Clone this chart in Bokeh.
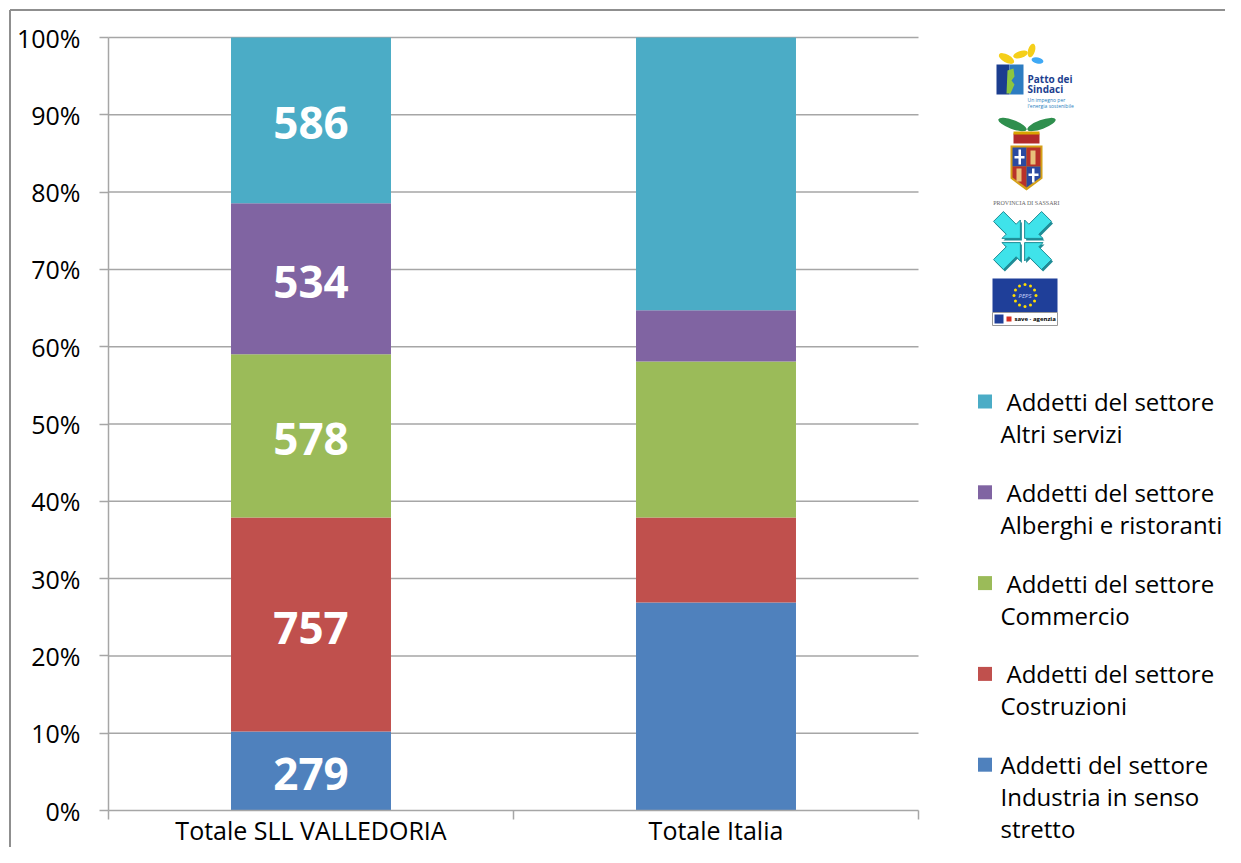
import math
from bokeh.plotting import figure
from bokeh.models import Range1d, FixedTicker, NumeralTickFormatter, ColumnDataSource
from bokeh.core.properties import value
from bokeh.embed import file_html
from bokeh.resources import INLINE

# ---------------- data ----------------
categories = ["Totale SLL VALLEDORIA", "Totale Italia"]
sectors = ["Industria in senso stretto", "Costruzioni", "Commercio",
           "Alberghi e ristoranti", "Altri servizi"]
valledoria = [279, 757, 578, 534, 586]          # addetti (numbers shown on bar)
italia_pct = [26.9, 11.0, 20.2, 6.6, 35.3]      # share
colors = ["#4F81BD", "#C0504D", "#9BBB59", "#8064A2", "#4BACC6"]
y_ticks = [i / 10 for i in range(11)]
legend_lines = [
    ["Addetti del settore", "Industria in senso", "stretto"],
    ["Addetti del settore", "Costruzioni"],
    ["Addetti del settore", "Commercio"],
    ["Addetti del settore", "Alberghi e ristoranti"],
    ["Addetti del settore", "Altri servizi"],
]

# ---------------- geometry (canvas pixels -> data) ----------------
W, H = 1225, 847
AX_X0, CAT_PX = 108, 405     # canvas x of x=0, pixels per category
AX_Y0, UNIT_PX = 810, 773    # canvas y of y=0, pixels per 100 %
def dx(px): return (px - AX_X0) / CAT_PX
def dy(py): return (AX_Y0 - py) / UNIT_PX

FONT = value("Open Sans")
GRID = "#a6a6a6"

p = figure(width=W, height=H, output_backend="svg", toolbar_location=None,
           tools="", x_axis_location=None,
           x_range=Range1d(dx(0), dx(W)), y_range=Range1d(dy(H), dy(0)),
           min_border=0)
p.outline_line_color = None
p.grid.visible = False

ya = p.yaxis[0]
ya.fixed_location = 0
ya.ticker = FixedTicker(ticks=y_ticks)
ya.formatter = NumeralTickFormatter(format="0%")
ya.bounds = (0, 1)
ya.axis_line_color = GRID
ya.axis_line_width = 1.5
ya.major_tick_line_color = GRID
ya.major_tick_line_width = 1.5
ya.major_tick_out = 9
ya.major_tick_in = 0
ya.minor_tick_line_color = None
ya.major_label_standoff = 19
ya.major_label_text_font = "Open Sans"
ya.major_label_text_font_size = "25px"
ya.major_label_text_color = "#000000"

# outer chart-area border (left and top are visible in the window)
p.segment(x0=[dx(9.5), dx(9.5)], y0=[dy(9.5), dy(9.5)], x1=[dx(9.5), dx(W)], y1=[dy(H), dy(9.5)],
          line_color="#8f8f8f", line_width=2)

ncat = len(categories)
# horizontal gridlines
p.segment(x0=0, x1=ncat, y0=y_ticks[1:], y1=y_ticks[1:], line_color=GRID, line_width=1.5)

# stacked 100 % bars
tot_v = sum(valledoria)
tot_i = sum(italia_pct)
xs = [i + 0.5 for i in range(ncat)]
src = {"x": xs}
for s, v, it in zip(sectors, valledoria, italia_pct):
    src[s] = [v / tot_v, it / tot_i]
p.vbar_stack(sectors, x="x", width=0.395, color=colors, line_color=None,
             source=ColumnDataSource(src))

# value labels in the Valledoria bar
mids, cum = [], 0
for v in valledoria:
    f = v / tot_v
    mids.append(cum + f / 2)
    cum += f
p.text(x=[xs[0]] * len(valledoria), y=mids, text=[str(v) for v in valledoria],
       text_font=FONT, text_font_style="bold", text_font_size="44px", y_offset=3,
       text_color="white", text_align="center", text_baseline="middle")

# x axis line, boundary ticks and category labels
p.segment(x0=0, x1=ncat, y0=0, y1=0, line_color=GRID, line_width=1.5)
bt = list(range(ncat + 1))
p.segment(x0=bt, x1=bt, y0=[0] * len(bt), y1=[dy(819)] * len(bt), line_color=GRID, line_width=1.5)
p.text(x=xs, y=[dy(829)] * ncat, text=categories, text_font=FONT, text_font_size="25px",
       text_color="#000000", text_align="center", text_baseline="middle")

# legend (drawn in the right margin); first lines of all but the last item are indented
lx, ly, lt = [], [], []
sq_y = []
n_items = len(legend_lines)
for k, lines in enumerate(reversed(legend_lines)):
    cy = 401 + k * 90.8
    sq_y.append(dy(cy))
    for j, ln in enumerate(lines):
        indent = 6 if (j == 0 and k < n_items - 1) else 0
        lx.append(dx(1000 + indent)); ly.append(dy(cy + j * 32)); lt.append(ln)
p.scatter(x=[dx(984.5)] * len(sq_y), y=sq_y, marker="square", size=14,
          color=list(reversed(colors)), line_color=None)
p.text(x=lx, y=ly, text=lt, text_font=FONT, text_font_size="24px", text_color="#000000",
       text_align="left", text_baseline="middle")

# ---------------- logos (decorative approximations) ----------------
def Q(l, r, t, b, c):
    p.quad(left=dx(l), right=dx(r), top=dy(t), bottom=dy(b), color=c, line_color=None)
def P(pts, c, lc=None):
    p.patch([dx(a) for a, b in pts], [dy(b) for a, b in pts], color=c, line_color=lc)
def T(x, y, s, size, c, font="Open Sans", style="normal", align="left"):
    p.text(x=[dx(x)], y=[dy(y)], text=[s], text_font=value(font), text_font_size=size,
           text_color=c, text_font_style=style, text_align=align, text_baseline="middle")
def E(x, y, w, h, a, c):
    p.ellipse(x=[dx(x)], y=[dy(y)], width=w, height=h, angle=a, width_units="screen",
              height_units="screen", color=c, line_color=None)

# Patto dei Sindaci
Q(996, 1009, 64, 94, "#1b3d8f")
Q(1009, 1023, 64, 94, "#2d7cc1")
P([(1007, 70), (1013, 68), (1014, 76), (1011, 80), (1014, 84), (1010, 93), (1006, 93)], "#8dc63f")
E(1006, 58, 17, 8, -0.5, "#f5cf1a")
E(1020, 54, 15, 7, 0.3, "#f5cf1a")
E(1031, 50, 7, 14, -0.3, "#f5cf1a")
E(1037, 60, 12, 6, -0.2, "#3fa9f5")
T(1027, 78, "Patto dei", "10px", "#1d3f8f", style="bold")
T(1027, 88, "Sindaci", "10px", "#1d3f8f", style="bold")
T(1027, 99, "Un impegno per", "5px", "#2a7fc0")
T(1027, 105, "l'energia sostenibile", "5px", "#2a7fc0")

# Provincia di Sassari
E(1012, 124, 30, 9, -0.35, "#2f8f4e")
E(1041, 124, 30, 9, 0.35, "#2f8f4e")
Q(1013, 1039, 133, 143, "#b22a2a")
Q(1013, 1039, 131, 134, "#d9a400")
P([(1010, 145), (1042, 145), (1042, 178), (1026, 190), (1010, 178)], "#d4a017")
Q(1012, 1026, 147, 166, "#2b4aa0")
Q(1018, 1020.5, 149, 164, "white"); Q(1014, 1024, 155.5, 158, "white")
Q(1026, 1040, 147, 166, "#b8322a")
Q(1030, 1035, 150, 164, "#e8c27a")
P([(1012, 166), (1026, 166), (1026, 187), (1012, 177)], "#b8322a")
Q(1016, 1021, 168, 181, "#e8c27a")
P([(1026, 166), (1040, 166), (1040, 177), (1026, 187)], "#2b4aa0")
Q(1031.5, 1034, 168, 182, "white"); Q(1028, 1038, 173, 175.5, "white")
T(1026, 202, "PROVINCIA DI SASSARI", "6px", "#666666", font="Liberation Serif", align="center")

# arrows
cx0, cy0 = 1022, 240
shape = [(0, 0), (13, 13), (13, 7), (31, 7), (31, -7), (13, -7), (13, -13)]
for sx, sy in [(1, 1), (-1, 1), (1, -1), (-1, -1)]:
    ux, uy = sx / math.sqrt(2), sy / math.sqrt(2)
    vx, vy = -uy, ux
    pts = [(cx0 + 3 * ux + u * ux + v * vx, cy0 + 3 * uy + u * uy + v * vy) for u, v in shape]
    P([(a + 1.5, b + 2) for a, b in pts], "#1f8c96")
    P(pts, "#3fe3ea", "#1f8c96")

# EU flag
Q(992, 1057, 278, 312, "#1f3f99")
sx_, sy_ = [], []
for k in range(12):
    a = 2 * math.pi * k / 12
    sx_.append(dx(1024.5 + 11 * math.cos(a))); sy_.append(dy(295 + 11 * math.sin(a)))
p.scatter(x=sx_, y=sy_, marker="circle", size=3, color="#ffdd00", line_color=None)
T(1024.5, 295.5, "PEPS", "6px", "#cfd8ff", style="italic", align="center")
p.quad(left=dx(992), right=dx(1057), top=dy(312), bottom=dy(325), fill_color="white", line_color="#999999")
Q(994, 1003, 314, 323, "#1f3f99")
Q(1006, 1011, 316, 321, "#d62d20")
T(1014, 318.5, "save · agenzia", "6px", "#000000", style="bold")

open("out.html", "w").write(file_html(p, INLINE))
